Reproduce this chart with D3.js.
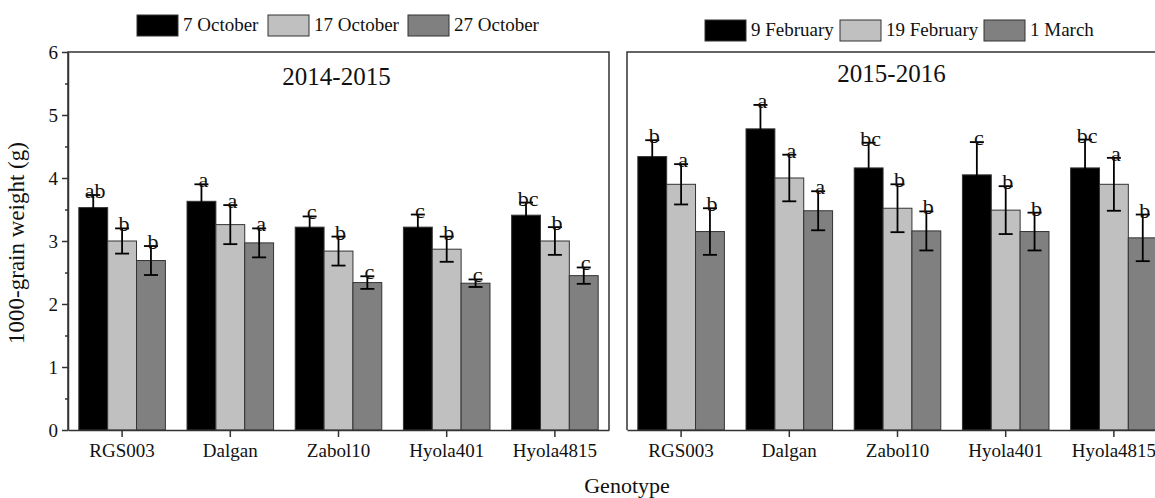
<!DOCTYPE html>
<meta charset="utf-8">
<style>
body { margin: 0; background: #fff; }
svg text { font-family: "Liberation Serif", "Times New Roman", serif !important; fill: #111; }
.domain, .tick line { stroke: #333; }
</style>
<body>
<script src="https://cdn.jsdelivr.net/npm/d3@7/dist/d3.min.js"></script>
<script>

// genotypes on the x axis
var genotypes = ["RGS003", "Dalgan", "Zabol10", "Hyola401", "Hyola4815"];
var seasons = ["2014-2015", "2015-2016"];
var dates2014 = ["7 October", "17 October", "27 October"];
var dates2015 = ["9 February", "19 February", "1 March"];
var yTicks = [0, 1, 2, 3, 4, 5, 6];

// means (g), one row per genotype, one column per sowing date
var mean2014 = [
  [3.53, 3.00, 2.69],
  [3.63, 3.26, 2.97],
  [3.22, 2.84, 2.34],
  [3.22, 2.87, 2.33],
  [3.41, 3.00, 2.45]
];
var err2014 = [
  [0.20, 0.20, 0.23],
  [0.27, 0.31, 0.23],
  [0.17, 0.23, 0.10],
  [0.20, 0.20, 0.06],
  [0.20, 0.22, 0.13]
];
var letters2014 = [
  ["ab", "b", "b"],
  ["a", "a", "a"],
  ["c", "b", "c"],
  ["c", "b", "c"],
  ["bc", "b", "c"]
];

var mean2015 = [
  [4.34, 3.90, 3.15],
  [4.78, 4.00, 3.48],
  [4.16, 3.52, 3.16],
  [4.05, 3.49, 3.15],
  [4.16, 3.90, 3.05]
];
var err2015 = [
  [0.26, 0.32, 0.37],
  [0.38, 0.37, 0.31],
  [0.40, 0.38, 0.31],
  [0.52, 0.38, 0.30],
  [0.45, 0.42, 0.37]
];
var letters2015 = [
  ["b", "a", "b"],
  ["a", "a", "a"],
  ["bc", "b", "b"],
  ["c", "b", "b"],
  ["bc", "a", "b"]
];

var colors = ["#000000", "#c0c0c0", "#808080"];

var width = 1155, height = 498;
var panelW = 541;
var y = d3.scaleLinear().domain([0, 6]).range([430, 52]);

var svg = d3.select("body").append("svg")
    .attr("width", width)
    .attr("height", height);

var x = d3.scaleBand().domain(genotypes).range([0, panelW]).padding(0);
var xInner = d3.scaleBand().domain([0, 1, 2])
    .range([-x.bandwidth() * 0.4, x.bandwidth() * 0.4]);

function drawPanel(left, means, errs, letters, title, showY) {
  var g = svg.append("g").attr("transform", "translate(" + left + ",0)");

  // frame: top and sides
  g.append("path")
      .attr("d", "M0,430V52H" + panelW + "V430")
      .attr("fill", "none")
      .attr("stroke", "#333")
      .attr("stroke-width", 1.5);

  var rows = genotypes.map(function(name, i) {
    return means[i].map(function(m, j) {
      return {g: name, j: j, mean: m, err: errs[i][j], letter: letters[i][j]};
    });
  });
  var flat = [].concat.apply([], rows);

  // bars
  g.selectAll("rect.bar")
    .data(flat)
    .enter().append("rect")
      .attr("class", "bar")
      .attr("x", function(d) { return x(d.g) + x.bandwidth() / 2 + xInner(d.j); })
      .attr("y", function(d) { return y(d.mean); })
      .attr("width", xInner.bandwidth())
      .attr("height", function(d) { return y(0) - y(d.mean); })
      .attr("fill", function(d) { return colors[d.j]; })
      .attr("stroke", "#333")
      .attr("stroke-width", 1);

  // error bars
  var cx = function(d) { return x(d.g) + x.bandwidth() / 2 + xInner(d.j) + xInner.bandwidth() / 2; };
  var eb = g.selectAll("g.err").data(flat).enter().append("g").attr("class", "err");
  eb.append("line")
      .attr("x1", cx).attr("x2", cx)
      .attr("y1", function(d) { return y(d.mean + d.err); })
      .attr("y2", function(d) { return y(d.mean - d.err); });
  eb.append("line")
      .attr("x1", function(d) { return cx(d) - 7; })
      .attr("x2", function(d) { return cx(d) + 7; })
      .attr("y1", function(d) { return y(d.mean + d.err); })
      .attr("y2", function(d) { return y(d.mean + d.err); });
  eb.append("line")
      .attr("x1", function(d) { return cx(d) - 7; })
      .attr("x2", function(d) { return cx(d) + 7; })
      .attr("y1", function(d) { return y(d.mean - d.err); })
      .attr("y2", function(d) { return y(d.mean - d.err); });
  eb.selectAll("line").attr("stroke", "#000").attr("stroke-width", 1.8);

  // significance letters
  g.selectAll("text.letter")
    .data(flat)
    .enter().append("text")
      .attr("class", "letter")
      .attr("x", function(d) { return cx(d) + 2; })
      .attr("y", function(d) { return y(d.mean + d.err) + 3; })
      .attr("text-anchor", "middle")
      .style("font-size", "22px")
      .text(function(d) { return d.letter; });

  // x axis
  var xAxis = g.append("g")
      .attr("transform", "translate(0,430)")
      .call(d3.axisBottom(x).tickSize(7).tickSizeOuter(0));
  xAxis.attr("font-family", null);
  xAxis.select(".domain").attr("stroke-width", 1.5);
  xAxis.selectAll(".tick line").attr("stroke-width", 1.5);
  xAxis.selectAll("text")
      .attr("dy", 0).attr("y", 27)
      .style("font-size", "19px").attr("fill", "#111");

  if (showY) {
    var yAxis = g.append("g")
        .call(d3.axisLeft(y).tickValues(yTicks).tickSize(6).tickSizeOuter(0)
              .tickFormat(d3.format("d")));
    yAxis.attr("font-family", null);
    yAxis.select(".domain").attr("stroke-width", 1.5);
    yAxis.selectAll(".tick line").attr("stroke-width", 1.5);
    yAxis.selectAll("text").style("font-size", "19px").attr("x", -10).attr("fill", "#111");
    // minor ticks at the half units
    g.append("g")
        .call(d3.axisLeft(y).tickValues(d3.range(0.5, 6, 1)).tickSize(3).tickFormat(""))
        .call(function(s) { s.select(".domain").remove(); })
        .selectAll(".tick line").attr("stroke-width", 1.5);
  }

  g.append("text")
      .attr("x", panelW / 2 - (showY ? 2 : 6))
      .attr("y", showY ? 85 : 82)
      .attr("text-anchor", "middle")
      .style("font-size", "25px")
      .text(title);
}

drawPanel(68, mean2014, err2014, letters2014, seasons[0], true);
drawPanel(627, mean2015, err2015, letters2015, seasons[1], false);

// legends
function drawLegend(names, xs, top) {
  var lg = svg.append("g").attr("transform", "translate(0," + top + ")");
  names.forEach(function(n, i) {
    lg.append("rect")
        .attr("x", xs[i]).attr("y", 0)
        .attr("width", 41).attr("height", 21)
        .attr("fill", colors[i])
        .attr("stroke", "#333").attr("stroke-width", 1);
    lg.append("text")
        .attr("x", xs[i] + 46).attr("y", 16)
        .style("font-size", "19px")
        .text(n);
  });
}
drawLegend(dates2014, [137, 268, 408], 15);
drawLegend(dates2015, [705, 840, 984], 20);

// y axis title
svg.append("text")
    .attr("transform", "translate(24,243) rotate(-90)")
    .attr("text-anchor", "middle")
    .style("font-size", "23px")
    .text("1000-grain weight (g)");

// x axis title
svg.append("text")
    .attr("x", 627).attr("y", 493)
    .attr("text-anchor", "middle")
    .style("font-size", "22px")
    .text("Genotype");

</script>
</body>
